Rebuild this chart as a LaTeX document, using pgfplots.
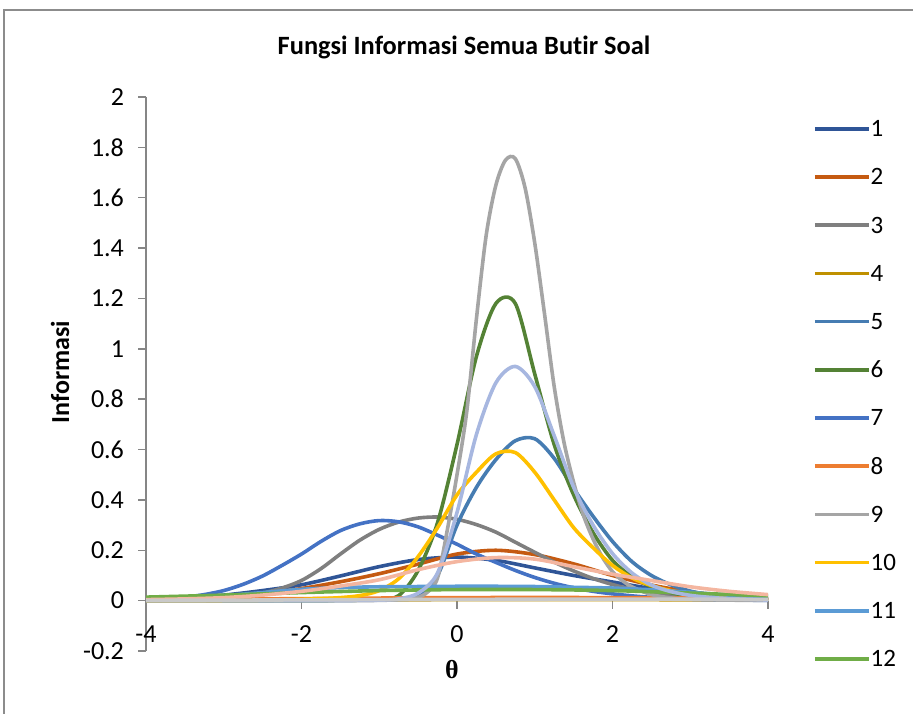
\documentclass[border=0pt]{standalone}
\usepackage{pgfplots}
\pgfplotsset{compat=1.18}
\usepackage{fontspec}
\setmainfont{Carlito}[Ligatures=NoCommon]
\newfontfamily\thetafont{Liberation Serif}
\definecolor{axisgray}{RGB}{134,134,134}
\definecolor{bordergray}{RGB}{140,140,140}
\definecolor{c1}{HTML}{2F5597}
\definecolor{c2}{HTML}{C55A11}
\definecolor{c3}{HTML}{7F7F7F}
\definecolor{c4}{HTML}{BF9000}
\definecolor{c5}{HTML}{467CB2}
\definecolor{c6}{HTML}{548235}
\definecolor{c7}{HTML}{4472C4}
\definecolor{c8}{HTML}{ED7D31}
\definecolor{c9}{HTML}{A5A5A5}
\definecolor{c10}{HTML}{FFC000}
\definecolor{c11}{HTML}{5B9BD5}
\definecolor{c12}{HTML}{70AD47}
\definecolor{c13}{HTML}{A7B7E0}
\definecolor{c14}{HTML}{F4B6A0}
\definecolor{c15}{HTML}{C9C9C9}
\begin{document}
\begin{tikzpicture}
\useasboundingbox (-73pt,-31pt) rectangle (383.5pt,325.5pt);
\draw[bordergray, line width=0.7pt] (-71pt,-40pt) -- (-71pt,320.5pt) -- (400pt,320.5pt);
\begin{axis}[
  scale only axis, width=311pt, height=277pt,
  xmin=-4, xmax=4, ymin=-0.2, ymax=2,
  axis x line*=middle, axis y line*=left,
  xtick={-4,-2,0,2,4},
  ytick={-0.2,0,0.2,0.4,0.6,0.8,1,1.2,1.4,1.6,1.8,2},
  tick align=outside, major tick length=4pt,
  axis line style={draw=axisgray, line width=0.75pt},
  tick style={draw=axisgray, line width=0.75pt},
  ticklabel style={font=\fontsize{13}{15}\selectfont},
  /pgf/number format/assume math mode=true,
  yticklabel style={/pgf/number format/fixed, /pgf/number format/precision=1, xshift=-3.5pt},
  xticklabel style={yshift=-5pt},
  hide obscured x ticks=false, hide obscured y ticks=false,
  every axis plot/.append style={line width=1.8pt, smooth},
  legend style={draw=none, fill=none, at={(axis description cs:1.0723,0.957)}, anchor=north west,
    inner sep=0pt, outer sep=0pt, row sep=16.2pt, font=\fontsize{12.5}{14}\selectfont,
    nodes={inner sep=0pt, text height=7.9pt, text depth=0pt},
    /tikz/every even column/.append style={column sep=3pt}},
  legend cell align=left,
  legend image code/.code={\draw[#1, line width=1.8pt] (0pt,0pt) -- (27pt,0pt);},
]
% 1
\addplot[c1] coordinates {(-4,0.005) (-3.5,0.012) (-3,0.022) (-2.5,0.04) (-2,0.063) (-1.5,0.098) (-1,0.135) (-0.5,0.163) (0,0.173) (0.5,0.16) (1,0.13) (1.5,0.1) (2,0.074) (2.5,0.048) (3,0.028) (3.5,0.015) (4,0.007)};
% 2
\addplot[c2] coordinates {(-4,0.004) (-3.5,0.008) (-3,0.015) (-2.5,0.028) (-2,0.048) (-1.5,0.075) (-1,0.107) (-0.5,0.145) (0,0.185) (0.5,0.2) (1,0.183) (1.5,0.146) (2,0.1) (2.5,0.062) (3,0.035) (3.5,0.018) (4,0.009)};
% 3
\addplot[c3] coordinates {(-4,0.001) (-3.75,0.002) (-3.5,0.004) (-3.25,0.007) (-3,0.011) (-2.75,0.018) (-2.5,0.03) (-2.25,0.05) (-2,0.08) (-1.75,0.127) (-1.5,0.185) (-1.25,0.24) (-1,0.283) (-0.75,0.312) (-0.5,0.328) (-0.25,0.332) (0,0.323) (0.25,0.302) (0.5,0.272) (0.75,0.232) (1,0.192) (1.25,0.153) (1.5,0.118) (1.75,0.088) (2,0.064) (2.25,0.045) (2.5,0.031) (2.75,0.021) (3,0.014) (3.25,0.009) (3.5,0.006) (3.75,0.004) (4,0.002)};
% 4
\addplot[c4] coordinates {(-4,0.001) (-2,0.002) (0,0.004) (2,0.004) (4,0.003)};
% 5
\addplot[c5] coordinates {(-4,0) (-3.5,0) (-3,0) (-2.5,0.0003) (-2,0.0005) (-1.75,0.0007) (-1.5,0.001) (-1.25,0.002) (-1,0.003) (-0.75,0.005) (-0.5,0.015) (-0.25,0.1) (0,0.3) (0.25,0.45) (0.5,0.56) (0.75,0.635) (1,0.643) (1.25,0.565) (1.5,0.445) (1.75,0.335) (2,0.235) (2.25,0.155) (2.5,0.1) (2.75,0.063) (3,0.038) (3.25,0.023) (3.5,0.014) (3.75,0.008) (4,0.005)};
% 6
\addplot[c6] coordinates {(-4,0) (-3.5,0) (-3,0) (-2.5,0.0001) (-2,0.0002) (-1.75,0.0004) (-1.5,0.001) (-1.25,0.002) (-1,0.005) (-0.75,0.02) (-0.5,0.12) (-0.25,0.31) (0,0.62) (0.25,0.97) (0.5,1.18) (0.75,1.18) (1,0.9) (1.25,0.62) (1.5,0.42) (1.75,0.27) (2,0.16) (2.25,0.095) (2.5,0.055) (2.75,0.032) (3,0.018) (3.25,0.011) (3.5,0.006) (3.75,0.004) (4,0.002)};
% 7
\addplot[c7] coordinates {(-4,0.004) (-3.75,0.008) (-3.5,0.014) (-3.25,0.024) (-3,0.04) (-2.75,0.065) (-2.5,0.098) (-2.25,0.14) (-2,0.185) (-1.75,0.235) (-1.5,0.278) (-1.25,0.305) (-1,0.318) (-0.75,0.313) (-0.5,0.293) (-0.25,0.26) (0,0.224) (0.25,0.185) (0.5,0.152) (0.75,0.12) (1,0.092) (1.25,0.069) (1.5,0.051) (1.75,0.037) (2,0.027) (2.25,0.019) (2.5,0.013) (2.75,0.009) (3,0.006) (3.25,0.004) (3.5,0.003) (3.75,0.002) (4,0.001)};
% 8
\addplot[c8] coordinates {(-4,0.003) (-2,0.008) (0,0.012) (2,0.012) (4,0.008)};
% 9
\addplot[c9] coordinates {(-4,0) (-3.5,0) (-3,0) (-2.5,0) (-2,0) (-1.5,0.0003) (-1,0.001) (-0.75,0.004) (-0.625,0.008) (-0.5,0.013) (-0.375,0.035) (-0.25,0.09) (-0.125,0.28) (0,0.5) (0.125,0.75) (0.25,1.12) (0.375,1.45) (0.5,1.65) (0.625,1.75) (0.75,1.755) (0.875,1.64) (1,1.42) (1.125,1.14) (1.25,0.85) (1.375,0.63) (1.5,0.47) (1.625,0.34) (1.75,0.245) (1.875,0.17) (2,0.115) (2.125,0.08) (2.25,0.055) (2.5,0.024) (2.75,0.011) (3,0.005) (3.5,0.002) (4,0.001)};
% 10
\addplot[c10] coordinates {(-4,0) (-3.5,0.0003) (-3,0.0008) (-2.75,0.001) (-2.5,0.002) (-2.25,0.003) (-2,0.005) (-1.75,0.008) (-1.5,0.012) (-1.25,0.02) (-1,0.04) (-0.75,0.087) (-0.5,0.175) (-0.25,0.29) (0,0.42) (0.25,0.51) (0.5,0.583) (0.75,0.588) (1,0.51) (1.25,0.4) (1.5,0.29) (1.75,0.21) (2,0.14) (2.25,0.09) (2.5,0.06) (2.75,0.04) (3,0.027) (3.25,0.018) (3.5,0.012) (3.75,0.007) (4,0.004)};
% 11
\addplot[c11] coordinates {(-4,0.01) (-3.5,0.014) (-3,0.02) (-2.5,0.032) (-2,0.045) (-1.5,0.052) (-1,0.055) (-0.5,0.056) (0,0.057) (0.5,0.057) (1,0.056) (1.5,0.053) (2,0.05) (2.5,0.043) (3,0.033) (3.5,0.022) (4,0.014)};
% 12
\addplot[c12] coordinates {(-4,0.014) (-3,0.022) (-2,0.032) (-1,0.04) (0,0.044) (1,0.044) (2,0.04) (3,0.03) (4,0.019)};
\legend{1,2,3,4,5,6,7,8,9,10,11,12}
% 13
\addplot[c13, forget plot] coordinates {(-4,0) (-3.5,0) (-3,0) (-2.5,0) (-2,0) (-1.75,0.0003) (-1.5,0.0005) (-1.25,0.001) (-1,0.002) (-0.75,0.007) (-0.5,0.03) (-0.25,0.11) (0,0.35) (0.25,0.66) (0.5,0.865) (0.75,0.93) (1,0.85) (1.25,0.655) (1.5,0.45) (1.75,0.3) (2,0.187) (2.25,0.11) (2.5,0.062) (2.75,0.036) (3,0.021) (3.25,0.013) (3.5,0.008) (3.75,0.005) (4,0.002)};
% 14
\addplot[c14, forget plot] coordinates {(-4,0.004) (-3.5,0.007) (-3,0.012) (-2.5,0.022) (-2,0.037) (-1.5,0.058) (-1,0.083) (-0.5,0.123) (0,0.155) (0.5,0.171) (1,0.165) (1.5,0.135) (2,0.105) (2.5,0.08) (3,0.055) (3.5,0.037) (4,0.024)};
% 15
\addplot[c15, forget plot] coordinates {(-4,0.001) (-2,0.003) (0,0.005) (2,0.006) (4,0.005)};
\end{axis}
\node[font=\fontsize{13.2}{15}\selectfont\bfseries] at (159pt,302pt) {Fungsi Informasi Semua Butir Soal};
\node[font=\fontsize{13}{15}\selectfont\bfseries, rotate=90] at (-43pt,139.5pt) {Informasi};
\node[font=\fontsize{13}{15}\selectfont\thetafont\bfseries] at (153pt,-9.5pt) {θ};
\end{tikzpicture}
\end{document}
